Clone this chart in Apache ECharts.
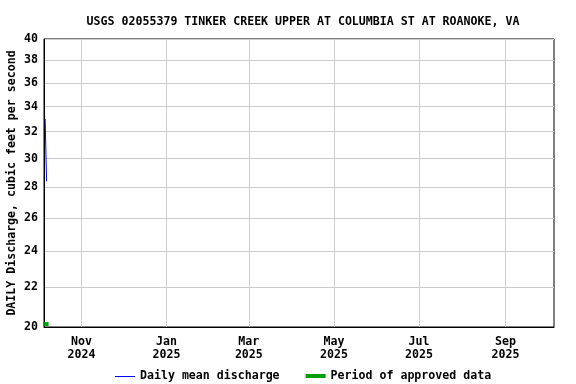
<!DOCTYPE html>
<html><head><meta charset="utf-8">
<script src="https://cdn.jsdelivr.net/npm/echarts@6/dist/echarts.min.js"></script>
<style>html,body{margin:0;padding:0;background:#fff}#c{width:576px;height:384px}</style>
</head><body><div id="c"></div>
<script>
const titleText = 'USGS 02055379 TINKER CREEK UPPER AT COLUMBIA ST AT ROANOKE, VA';
const dischargeDates = ['2024-10-06', '2024-10-07'];
const dischargeValues = [33.0, 28.4];
const approvedDates = ['2024-10-06', '2024-10-07'];
const approvedLevel = [20.14, 20.14];
const yTicks = [20, 22, 24, 26, 28, 30, 32, 34, 36, 38, 40];
const xTickDates = ['2024-11-01', '2025-01-01', '2025-03-01', '2025-05-01', '2025-07-01', '2025-09-01'];
const monthNames = ['Jan','Feb','Mar','Apr','May','Jun','Jul','Aug','Sep','Oct','Nov','Dec'];
const xMin = '2024-10-05T04:00:00', xMax = '2025-10-05T18:00:00';

const font = 'DejaVu Sans Mono';
const ts = s => new Date(s + (s.length <= 10 ? 'T00:00:00' : '')).getTime();
const thinIcon = 'path://M0,2H20V3H0Z M0,0H0.01V0.01H0Z M0,4H0.01V3.99H0Z';
const thickIcon = 'path://M0,0H20V4H0Z';
const chart = echarts.init(document.getElementById('c'), null, {renderer: 'canvas'});
chart.setOption({
  animation: false,
  textStyle: {fontFamily: font, fontWeight: 'bold'},
  title: {text: titleText, left: 298, top: 11, textAlign: 'center',
    textStyle: {fontFamily: font, fontSize: 11.6, fontWeight: 'bold', color: '#000'}},
  grid: {left: 44, right: 22, top: 39, bottom: 57, show: true, borderColor: '#000', borderWidth: 1,
    outerBoundsMode: 'none', containLabel: false},
  legend: {top: 365, left: 110, itemGap: 26, itemWidth: 20, itemHeight: 4,
    textStyle: {fontFamily: font, fontSize: 11.6, fontWeight: 'bold', color: '#000'},
    data: [{name: 'Daily mean discharge', icon: thinIcon, itemStyle: {color: '#0000ff'}},
           {name: 'Period of approved data', icon: thickIcon, itemStyle: {color: '#00a000'}}]},
  xAxis: {type: 'value', min: ts(xMin), max: ts(xMax),
    axisLine: {show: true, lineStyle: {color: '#000'}},
    axisTick: {show: false, customValues: xTickDates.map(ts)},
    splitLine: {show: true, lineStyle: {color: '#cccccc', width: 1}},
    axisLabel: {customValues: xTickDates.map(ts), fontFamily: font, fontSize: 11.6, fontWeight: 'bold', color: '#000',
      lineHeight: 13, margin: 8,
      formatter: v => { const d = new Date(v); return monthNames[d.getMonth()] + '\n' + d.getFullYear(); }}},
  yAxis: {type: 'log', logBase: 10, min: 20, max: 40,
    name: 'DAILY Discharge, cubic feet per second', nameLocation: 'middle', nameGap: 26, nameMoveOverlap: false,
    nameTextStyle: {fontFamily: font, fontSize: 11.6, fontWeight: 'bold', color: '#000'},
    axisLine: {show: true, lineStyle: {color: '#000'}},
    axisTick: {show: false, customValues: yTicks},
    splitLine: {show: true, lineStyle: {color: '#cccccc', width: 1}},
    axisLabel: {customValues: yTicks, fontFamily: font, fontSize: 11.6, fontWeight: 'bold', color: '#000', margin: 6}},
  series: [
    {name: 'Daily mean discharge', type: 'line', symbol: 'none', clip: true,
      lineStyle: {color: '#0000ff', width: 1}, itemStyle: {color: '#0000ff'},
      data: dischargeDates.map((d, i) => [ts(d), dischargeValues[i]])},
    {name: 'Period of approved data', type: 'line', symbol: 'none', clip: false,
      lineStyle: {color: '#00a000', width: 4, cap: 'square'}, itemStyle: {color: '#00a000'},
      data: approvedDates.map((d, i) => [ts(d), approvedLevel[i]])}
  ]
});
</script></body></html>
